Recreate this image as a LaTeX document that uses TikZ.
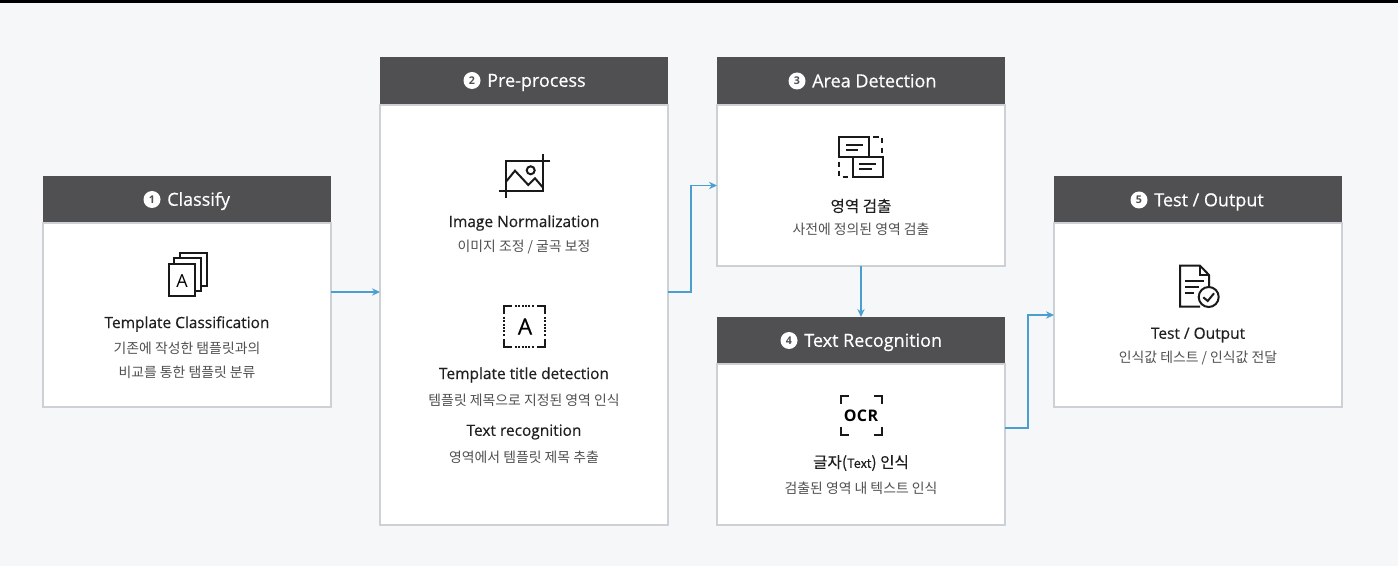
\documentclass[tikz,border=0pt]{standalone}
\usepackage{fontspec}
\setmainfont{Open Sans}
\newfontfamily\krfont{Noto Sans CJK KR}
\usetikzlibrary{positioning,arrows.meta}
\definecolor{pagebg}{HTML}{F5F7F9}
\definecolor{headgray}{HTML}{505052}
\definecolor{edgegray}{HTML}{CDD0D4}
\definecolor{flowblue}{HTML}{4A9FD0}
\definecolor{subgray}{HTML}{505050}
\tikzset{
  every picture/.style={line width=0.75pt},
  headbox/.style={anchor=north west,fill=headgray,minimum width=216pt,minimum height=#1,inner sep=0pt,outer sep=0pt},
  headbox/.default=35.25pt,
  bodybox/.style={fill=white,draw=edgegray,line width=0.9pt,minimum width=216pt,inner sep=0pt,outer sep=0pt},
  stepno/.style={circle,fill=white,text=headgray,minimum size=12.75pt,inner sep=0pt,font=\fontsize{8}{9}\selectfont\bfseries},
  steptitle/.style={right=4.3pt of #1,yshift=-1.2pt,inner sep=0pt,text=white,text height=9.5pt,text depth=2.5pt,font=\fontsize{13.5}{15}\addfontfeature{FakeBold=0.5}},
  maintitle/.style={inner sep=0pt,yshift=-0.75pt,text=black!88,font=\fontsize{11.6}{13}\addfontfeature{FakeBold=0.4}},
  krtitle/.style={inner sep=0pt,yshift=-0.75pt,text=black!88,font=\fontsize{11.7}{13}\krfont\addfontfeature{FakeBold=0.2}},
  subtitle/.style={inner sep=0pt,yshift=-0.75pt,text=subgray,font=\fontsize{10.4}{12}\krfont},
  flow/.style={draw=flowblue,line width=1.1pt,-{Stealth[length=6pt,width=5.5pt]}},
  icon/.style={draw=black!90,line width=1.5pt},
}
\begin{document}
\begin{tikzpicture}[x=0.75pt,y=0.75pt,yscale=-1,xscale=1]
	\useasboundingbox (0,0) rectangle (1398,566);
	\fill[pagebg] (0,0) rectangle (1398,566);
	\fill[black] (0,0) rectangle (1398,3);

	% Classify
	\node[headbox] (classifyhead) at (43,176) {};
	\node[bodybox,minimum height=138pt,below=0pt of classifyhead] (classifybody) {};
	\node[stepno] (classifyno) at (152,199.5) {1};
	\node[steptitle=classifyno] (classifystep) {Classify};
	\node[maintitle] (classifytitle) at (187,323) {Template Classification};
	\node[subtitle] (classifysuba) at (187,347) {기존에 작성한 탬플릿과의};
	\node[subtitle] (classifysubb) at (187,371) {비교를 통한 탬플릿 분류};
	% Pre-process
	\node[headbox=36pt] (prehead) at (380,57) {};
	\node[bodybox,minimum height=315pt,below=0pt of prehead] (prebody) {};
	\node[stepno] (preno) at (472,80.5) {2};
	\node[steptitle=preno] (prestep) {Pre-process};
	\node[maintitle] (pretitlea) at (524,222) {Image Normalization};
	\node[subtitle] (presuba) at (524,246) {이미지 조정 / 굴곡 보정};
	\node[maintitle] (pretitleb) at (524,374) {Template title detection};
	\node[subtitle] (presubb) at (524,399) {템플릿 제목으로 지정된 영역 인식};
	\node[maintitle] (pretitlec) at (524,431) {Text recognition};
	\node[subtitle] (presubc) at (524,456) {영역에서 템플릿 제목 추출};
	% Area Detection
	\node[headbox=36pt] (areahead) at (717,57) {};
	\node[bodybox,minimum height=120.75pt,below=0pt of areahead] (areabody) {};
	\node[stepno] (areano) at (797,81) {3};
	\node[steptitle=areano] (areastep) {Area Detection};
	\node[krtitle] (areatitle) at (861,205) {영역 검출};
	\node[subtitle] (areasub) at (861,228) {사전에 정의된 영역 검출};
	% Text Recognition
	\node[headbox] (texthead) at (717,317) {};
	\node[bodybox,minimum height=120.75pt,below=0pt of texthead] (textbody) {};
	\node[stepno] (textno) at (789,340.5) {4};
	\node[steptitle=textno] (textstep) {Text Recognition};
	\node[krtitle] (texttitle) at (861,462) {글자(\fontsize{9.5}{13}\selectfont Text\fontsize{11.7}{13}\selectfont) 인식};
	\node[subtitle] (textsub) at (861,487) {검출된 영역 내 텍스트 인식};
	% Test / Output
	\node[headbox] (testhead) at (1054,176) {};
	\node[bodybox,minimum height=138pt,below=0pt of testhead] (testbody) {};
	\node[stepno] (testno) at (1139,200) {5};
	\node[steptitle=testno] (teststep) {Test / Output};
	\node[maintitle] (testtitle) at (1198,334) {Test / Output};
	\node[subtitle] (testsub) at (1198,357) {인식값 테스트 / 인식값 전달};

	% Connectors
	\draw[flow] ([yshift=-17.25pt]classifybody.east) -- ([yshift=-17.25pt]prebody.west);
	\draw[flow] ([yshift=-17.25pt]prebody.east) -- ++(23,0) |- (areabody.west);
	\draw[flow] (areabody.south) -- (texthead.north);
	\draw[flow] ([yshift=-12.4pt]textbody.east) -- ++(23,0) |- (testbody.west);

	% Icon: stacked pages
	\draw[icon] (174.3,264.3) -- (174.3,258.3) -- (201,258.3) -- (201,291) -- (195,291);
	\draw[icon] (180,258.3) -- (180,252.7) -- (207,252.7) -- (207,286) -- (201,286);
	\draw[icon] (169,264.3) rectangle (195,296);
	\node[inner sep=0pt,font=\fontsize{13.5}{14}\selectfont] (iconA) at (182,280.7) {A};
	% Icon: image crop
	\draw[icon] (499,191) -- (542.7,191) -- (542.7,154.3);
	\draw[icon] (550,161) -- (506,161) -- (506,197.7);
	\draw[icon] (506,181.7) -- (515,170.7) -- (528.3,185) -- (535,178.3) -- (542.7,187.3);
	\draw[icon] (530.7,170.3) circle (4);
	% Icon: title frame
	\draw[icon] (504.3,314) -- (504.3,306) -- (512.3,306);
	\draw[icon] (537,306) -- (545,306) -- (545,314);
	\draw[icon] (504.3,339) -- (504.3,346.7) -- (512.3,346.7);
	\draw[icon] (537,346.7) -- (545,346.7) -- (545,339);
	\draw[icon,densely dotted] (515,306) -- (535,306) (515,346.7) -- (535,346.7) (504.3,317) -- (504.3,337) (545,317) -- (545,337);
	\node[inner sep=0pt,font=\fontsize{17}{18}\addfontfeature{FakeBold=0.3}] (iconB) at (525,326.5) {A};
	% Icon: areas
	\draw[icon] (839.3,136.7) rectangle (868.7,157.3);
	\draw[icon] (853.3,157.3) rectangle (882.7,177.3);
	\draw[icon] (846,145) -- (862.7,145) (846,150) -- (858.3,150);
	\draw[icon] (859.3,164.3) -- (875.7,164.3) (859.3,169.3) -- (871.7,169.3);
	\draw[icon] (873.3,136.7) -- (879,136.7) (882,138.3) -- (882,143.3) (882,147.7) -- (882,153.3);
	\draw[icon] (839.3,161.7) -- (839.3,166.7) (839.3,170.7) -- (839.3,176) (842.7,177.3) -- (848.3,177.3);
	% Icon: OCR
	\draw[icon] (841,403.7) -- (841,395.7) -- (849,395.7);
	\draw[icon] (874.3,395.7) -- (882.3,395.7) -- (882.3,403.7);
	\draw[icon] (841,427.3) -- (841,435.3) -- (849,435.3);
	\draw[icon] (874.3,435.3) -- (882.3,435.3) -- (882.3,427.3);
	\node[inner sep=0pt,font=\fontsize{12}{13}\selectfont\bfseries\addfontfeature{LetterSpace=3}] (iconC) at (861,415.7) {OCR};
	% Icon: checked document
	\draw[icon] (1200,306.7) -- (1180,306.7) -- (1180,265.7) -- (1200,265.7) -- (1209,275) -- (1209,286.7);
	\draw[icon] (1200,265.7) -- (1200,275) -- (1209,275);
	\draw[icon] (1185,281) -- (1204.3,281) (1185,286.7) -- (1199,286.7) (1185,292.7) -- (1194.3,292.7);
	\draw[icon] (1208.7,297) circle (10);
	\draw[icon] (1203.3,297.3) -- (1207.7,301) -- (1214,293.3);
\end{tikzpicture}
\end{document}
